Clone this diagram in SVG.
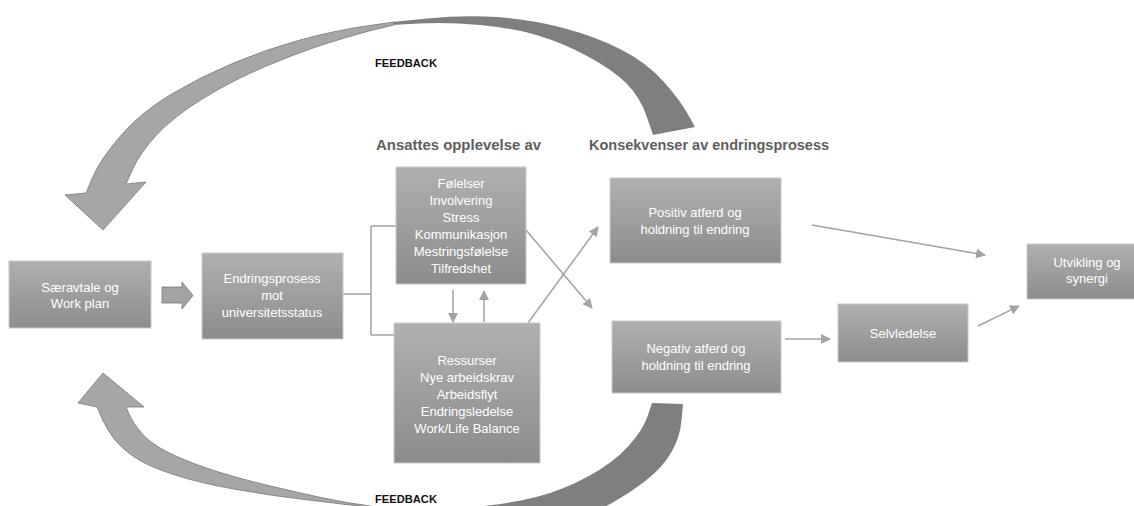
<svg xmlns="http://www.w3.org/2000/svg" width="1134" height="506" viewBox="0 0 1134 506">
  <defs>
    <linearGradient id="boxFill" x1="0" y1="0" x2="0" y2="1">
      <stop offset="0" stop-color="#b0b0b0"/>
      <stop offset="1" stop-color="#8c8c8c"/>
    </linearGradient>
    <marker id="head" markerWidth="10" markerHeight="10" refX="9" refY="5" orient="auto" markerUnits="userSpaceOnUse">
      <path d="M0,0 L10,5 L0,10 Z" fill="#a3a3a3"/>
    </marker>
    <style>
      .box { fill: url(#boxFill); stroke: #c9c9c9; stroke-width: 1; }
      .lbl { font-family: "Liberation Sans", Arial, sans-serif; font-size: 13px; fill: #ffffff; text-anchor: middle; }
      .hdr { font-family: "Liberation Sans", Arial, sans-serif; font-size: 15px; font-weight: bold; fill: #5e5e5e; }
      .fb { font-family: "Liberation Sans", Arial, sans-serif; font-size: 11px; font-weight: bold; fill: #111111; }
      .conn { fill: none; stroke: #a3a3a3; stroke-width: 1.5; }
      .front { fill: #a6a6a6; stroke: #7a7a7a; stroke-width: 0.8; }
      .back { fill: #7f7f7f; }
    </style>
  </defs>

  <!-- feedback loops -->
  <g id="feedback-top">
    <path class="back" d="M392,22 L427.5,18.5 Q463,15 496.5,17 Q530,19 563.5,28 Q597,37 622,50 Q647,63 663.5,81.5 Q680,100 687.5,113.5 L695,127 L653,135 L646.5,116 Q640,97 626.5,83.5 Q613,70 588,56.5 Q563,43 538,35.5 Q513,28 480,25 Q447,22 419.5,23.5 L392,25 Z"/>
    <path class="front" d="M394,22 L362.5,26.5 Q333,31 300,40 Q267,49 233.5,63 Q200,77 170,95 Q140,113 120,136.5 Q100,160 93,176.5 L86,193 L65,195 L103,230 L146,182 L126,184 L133,168.5 Q140,153 156.5,135 Q173,117 203,98.5 Q233,80 266.5,66 Q300,52 325,44 Q350,36 371,30.5 L394,25 Z"/>
    <text class="fb" x="375" y="67" textLength="62" lengthAdjust="spacingAndGlyphs">FEEDBACK</text>
  </g>
  <g id="feedback-bottom">
    <path class="back" d="M652,403 L683,404 L681.5,420.5 Q680,437 671.5,452 Q663,467 646.5,480 Q630,493 610,504 Q590,515 545,522.5 L500,530 L400,515 L400,512 L431.5,510 Q463,508 488,505.5 Q513,503 538,496.5 Q563,490 588,476.5 Q613,463 628,446.5 Q643,430 647.5,416.5 Z"/>
    <path class="front" d="M400,511 L366.5,507 Q333,503 300,499 Q267,495 233.5,489 Q200,483 175,475 Q150,467 136.5,458.5 Q123,450 115,440 Q107,430 102,418.5 L97,407 L78,403 L103,373 L144,407 L126,407 L129.5,415 Q133,423 141.5,433 Q150,443 166.5,451.5 Q183,460 208,468.5 Q233,477 266.5,485 Q300,493 323.5,498 Q347,503 373.5,506.5 L400,510 Z"/>
    <text class="fb" x="375" y="503" textLength="62" lengthAdjust="spacingAndGlyphs">FEEDBACK</text>
  </g>

  <!-- column headings -->
  <text class="hdr" x="376" y="150" textLength="165" lengthAdjust="spacingAndGlyphs">Ansattes opplevelse av</text>
  <text class="hdr" x="589" y="150" textLength="240" lengthAdjust="spacingAndGlyphs">Konsekvenser av endringsprosess</text>

  <!-- connectors -->
  <g id="connectors">
    <path d="M162,287 L182,287 L182,282 L193,295.5 L182,309 L182,303 L162,303 Z" fill="#a3a3a3" stroke="#7a7a7a" stroke-width="0.8"/>
    <path class="conn" d="M343,294 L371,294 M371,226 L371,335 M371,226 L396,226 M371,335 L394,335"/>
    <line class="conn" x1="453" y1="290" x2="453" y2="322" marker-end="url(#head)"/>
    <line class="conn" x1="484" y1="322" x2="484" y2="291" marker-end="url(#head)"/>
    <line class="conn" x1="526" y1="230" x2="592" y2="308" marker-end="url(#head)"/>
    <line class="conn" x1="528" y1="323" x2="598" y2="227" marker-end="url(#head)"/>
    <line class="conn" x1="812" y1="225" x2="985" y2="255" marker-end="url(#head)"/>
    <line class="conn" x1="785" y1="339" x2="830" y2="339" marker-end="url(#head)"/>
    <line class="conn" x1="978" y1="326" x2="1019" y2="306" marker-end="url(#head)"/>
  </g>

  <!-- nodes -->
  <g id="saeravtale">
    <rect class="box" x="9" y="261" width="142" height="67"/>
    <text class="lbl" x="80" y="292">Særavtale og</text>
    <text class="lbl" x="80" y="308">Work plan</text>
  </g>
  <g id="endringsprosess">
    <rect class="box" x="202" y="253" width="141" height="86"/>
    <text class="lbl" x="272" y="283">Endringsprosess</text>
    <text class="lbl" x="272" y="300">mot</text>
    <text class="lbl" x="272" y="317">universitetsstatus</text>
  </g>
  <g id="opplevelse">
    <rect class="box" x="396" y="167" width="130" height="117"/>
    <text class="lbl" x="461" y="188">Følelser</text>
    <text class="lbl" x="461" y="205">Involvering</text>
    <text class="lbl" x="461" y="222">Stress</text>
    <text class="lbl" x="461" y="239">Kommunikasjon</text>
    <text class="lbl" x="461" y="256">Mestringsfølelse</text>
    <text class="lbl" x="461" y="273">Tilfredshet</text>
  </g>
  <g id="ressurser">
    <rect class="box" x="394" y="323" width="146" height="140"/>
    <text class="lbl" x="467" y="365">Ressurser</text>
    <text class="lbl" x="467" y="382">Nye arbeidskrav</text>
    <text class="lbl" x="467" y="399">Arbeidsflyt</text>
    <text class="lbl" x="467" y="416">Endringsledelse</text>
    <text class="lbl" x="467" y="433">Work/Life Balance</text>
  </g>
  <g id="positiv">
    <rect class="box" x="610" y="178" width="171" height="85"/>
    <text class="lbl" x="695" y="217">Positiv atferd og</text>
    <text class="lbl" x="695" y="234">holdning til endring</text>
  </g>
  <g id="negativ">
    <rect class="box" x="612" y="321" width="169" height="72"/>
    <text class="lbl" x="696" y="353">Negativ atferd og</text>
    <text class="lbl" x="696" y="370">holdning til endring</text>
  </g>
  <g id="selvledelse">
    <rect class="box" x="838" y="304" width="130" height="58"/>
    <text class="lbl" x="903" y="338">Selvledelse</text>
  </g>
  <g id="utvikling">
    <rect class="box" x="1027" y="244" width="120" height="55"/>
    <text class="lbl" x="1087" y="267">Utvikling og</text>
    <text class="lbl" x="1087" y="283">synergi</text>
  </g>
</svg>
